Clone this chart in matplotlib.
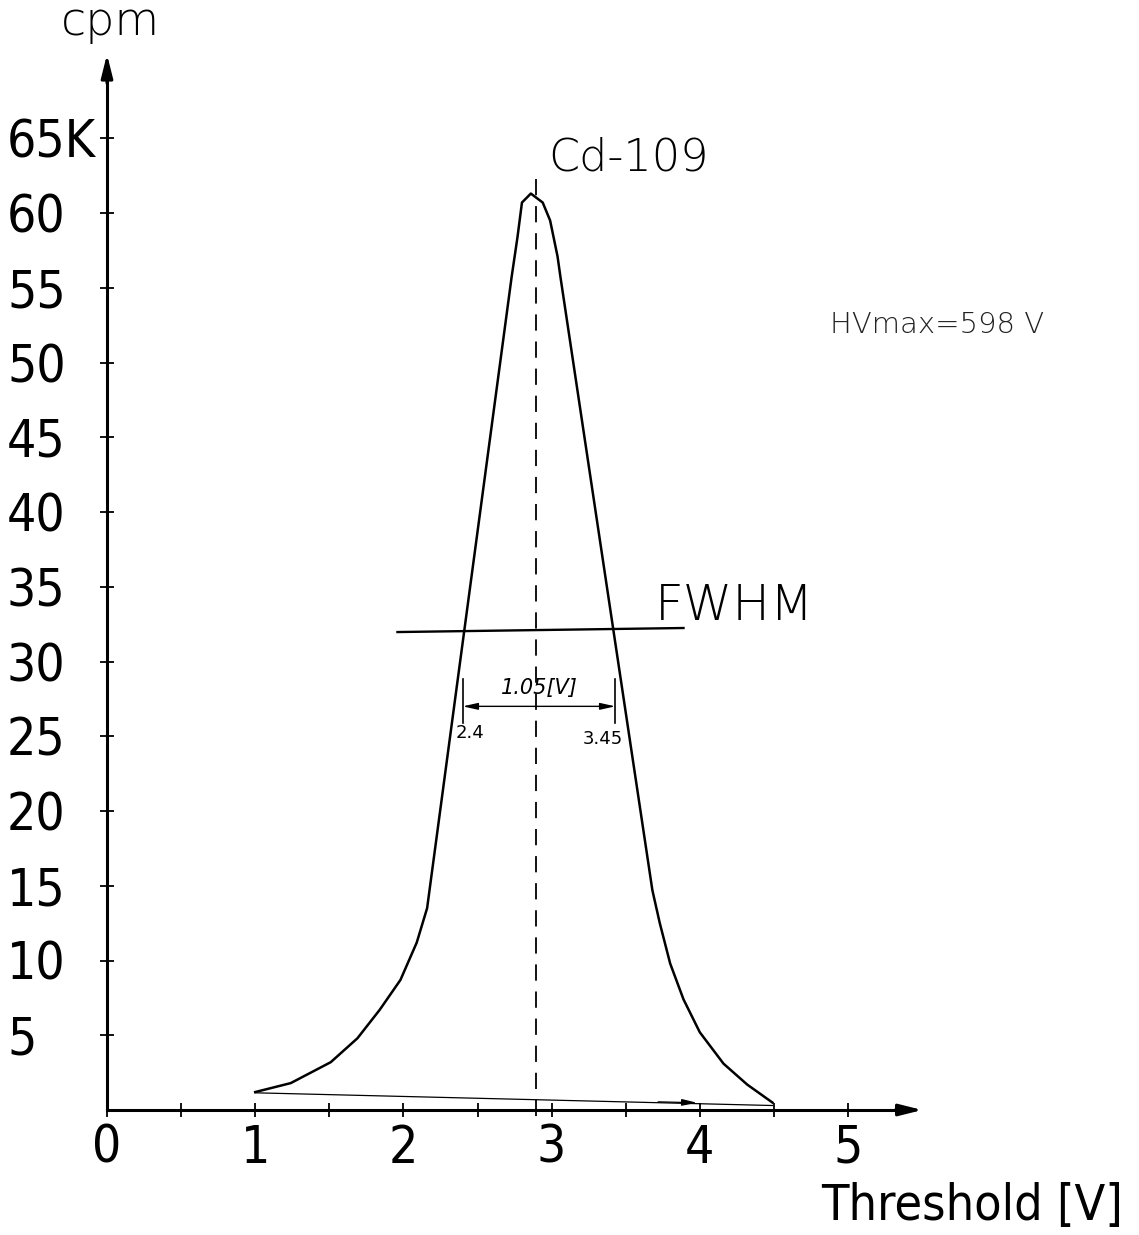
import matplotlib
matplotlib.use("Agg")
from matplotlib import pyplot, ticker

# (x in V, y in K cpm)
threshold = [1.00, 1.24, 1.51, 1.69, 1.84, 1.98, 2.09, 2.16,
             2.73, 2.77, 2.80, 2.86, 2.94, 2.99, 3.04, 3.06,
             3.68, 3.73, 3.80, 3.89, 4.00, 4.16, 4.32, 4.49]
counts = [1.2, 1.8, 3.2, 4.8, 6.7, 8.7, 11.2, 13.5,
          55.7, 58.4, 60.7, 61.3, 60.7, 59.5, 57.1, 55.7,
          14.7, 12.5, 9.8, 7.4, 5.2, 3.1, 1.7, 0.5]
return_x = [1.00, 4.49]
return_y = [1.15, 0.3]

peak_x = 2.895
fwhm_left = 2.4
fwhm_right = 3.45
fwhm_width = 1.05

y_ticks = [5, 10, 15, 20, 25, 30, 35, 40, 45, 50, 55, 60, 65]
y_labels = ["5", "10", "15", "20", "25", "30", "35", "40", "45", "50", "55", "60", "65K"]
x_ticks = [0, 1, 2, 3, 4, 5]
x_minor = [0.5, 1.5, 2.5, 3.5, 4.5]

# pixel scale of the original drawing
PX_X = 148.2
PX_Y = 14.95
X0, Y0 = 107, 1110
W, H = 1139, 1235

NUM_FONT = dict(family="DejaVu Sans", stretch="condensed")


def main():
    fig = pyplot.figure(figsize=(W / 100, H / 100), dpi=100)
    ax = fig.add_axes([0, 0, 1, 1])
    ax.set_xlim(-X0 / PX_X, (W - X0) / PX_X)
    ax.set_ylim((Y0 - H) / PX_Y, Y0 / PX_Y)
    ax.patch.set_visible(False)

    for side in ("top", "right"):
        ax.spines[side].set_visible(False)
    ax.spines["left"].set_position(("data", 0))
    ax.spines["bottom"].set_position(("data", 0))
    ax.spines["left"].set_bounds(0, 69.5)
    ax.spines["bottom"].set_bounds(0, 5.35)
    ax.spines["left"].set_linewidth(2.2)
    ax.spines["bottom"].set_linewidth(2.2)

    ax.xaxis.set_major_locator(ticker.FixedLocator(x_ticks))
    ax.xaxis.set_minor_locator(ticker.FixedLocator(x_minor))
    ax.set_xticklabels([str(v) for v in x_ticks], fontsize=37, **NUM_FONT)
    ax.set_yticks(y_ticks)
    ax.set_yticklabels(y_labels, fontsize=37, ha="left", **NUM_FONT)
    ax.tick_params(axis="both", which="both", direction="inout", length=10, width=1.3)
    ax.tick_params(axis="x", pad=5)
    ax.tick_params(axis="y", pad=67)

    # axis arrows
    ax.annotate("", xy=(0, 70.8), xytext=(0, 68.5),
                arrowprops=dict(arrowstyle="-|>,head_length=1.4,head_width=0.35",
                                color="black", lw=2.2))
    ax.annotate("", xy=(5.52, 0), xytext=(5.3, 0),
                arrowprops=dict(arrowstyle="-|>,head_length=1.4,head_width=0.35",
                                color="black", lw=2.2))

    # measured curve and return trace
    ax.plot(threshold, counts, color="black", lw=1.8, solid_joinstyle="round")
    ax.plot(return_x, return_y, color="black", lw=0.9)
    ax.annotate("", xy=(4.0, 0.48), xytext=(3.7, 0.55),
                arrowprops=dict(arrowstyle="-|>,head_length=0.9,head_width=0.2",
                                color="black", lw=0.9))

    # peak marker
    ax.plot([peak_x, peak_x], [62.3, -0.7], color="black", lw=1.3,
            dashes=(9, 6))

    # FWHM construction
    ax.plot([1.96, 3.89], [31.97, 32.24], color="black", lw=1.7)
    ax.text(3.70, 33.7, "FWHM", fontsize=36, va="center", ha="left",
            family="DejaVu Sans", fontweight="light")
    for xv in (fwhm_left, 3.43):
        ax.plot([xv, xv], [25.9, 28.8], color="black", lw=1.2)
    ax.annotate("", xy=(fwhm_left, 27.0), xytext=(3.43, 27.0),
                arrowprops=dict(arrowstyle="<|-|>,head_length=0.9,head_width=0.2",
                                color="black", lw=1.0, shrinkA=0, shrinkB=0))
    ax.text(2.92, 28.2, "%.2f[V]" % fwhm_width, fontsize=15, style="italic",
            ha="center", va="center")
    ax.text(2.35, 25.2, "%.1f" % fwhm_left, fontsize=13, ha="left", va="center")
    ax.text(3.21, 24.8, "%.2f" % fwhm_right, fontsize=13, ha="left", va="center")

    # labels
    ax.text(2.976, 63.7, "Cd-109", fontsize=32, ha="left", va="center",
            family="DejaVu Sans", fontweight="light")
    ax.text(4.88, 52.5, "HVmax=598 V", fontsize=21, ha="left", va="center",
            color="#222222", fontweight="light")
    ax.text(0.02, 72.8, "cpm", fontsize=33, ha="center", va="center",
            fontweight="light")
    ax.text(4.82, -6.4, "Threshold [V]", fontsize=36, ha="left", va="center",
            **NUM_FONT)

    fig.savefig("out.png", dpi=100)


if __name__ == "__main__":
    main()
